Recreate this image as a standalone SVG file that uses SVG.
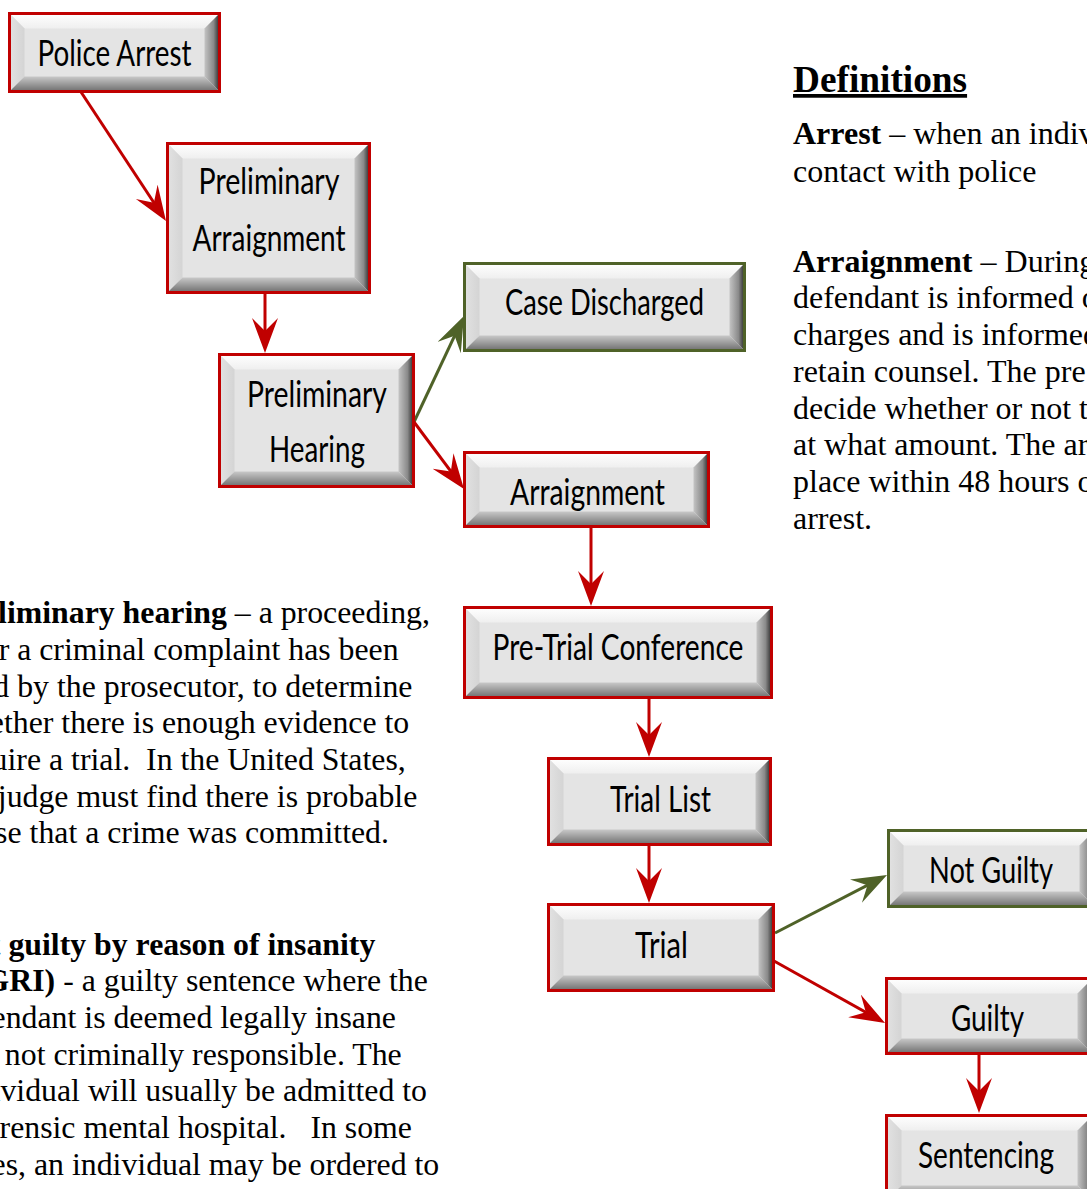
<svg xmlns="http://www.w3.org/2000/svg" width="1087" height="1189" viewBox="0 0 1087 1189">
<style>
.face{fill:#e4e4e4}
.bt{fill:url(#gTop)}
.bl{fill:url(#gLeft)}
.br{fill:url(#gRight)}
.bb{fill:url(#gBot)}
.rb{fill:none;stroke:#c00000;stroke-width:3}
.gb{fill:none;stroke:#4f6228;stroke-width:3}
.lbl{font-family:Lato,"Open Sans","Liberation Sans",sans-serif;font-size:36px;fill:#000;text-anchor:middle}
.body{font-family:"Liberation Serif","Times New Roman",serif;font-size:32px;fill:#000}
.lft{font-size:31.8px}
.b{font-weight:bold}
.cr{fill:none;stroke:#c00000;stroke-width:3;marker-end:url(#ahR)}
.cg{fill:none;stroke:#4f6228;stroke-width:3;marker-end:url(#ahG)}
</style>
<defs>
<linearGradient id="gTop" x1="0" y1="0" x2="0" y2="1"><stop offset="0" stop-color="#ffffff"/><stop offset="1" stop-color="#efefef"/></linearGradient>
<linearGradient id="gLeft" x1="0" y1="0" x2="1" y2="0"><stop offset="0" stop-color="#e2e2e2"/><stop offset="1" stop-color="#d4d4d4"/></linearGradient>
<linearGradient id="gRight" x1="0" y1="0" x2="1" y2="0"><stop offset="0" stop-color="#c4c4c4"/><stop offset="0.6" stop-color="#8a8a8a"/><stop offset="1" stop-color="#2a2a2a"/></linearGradient>
<linearGradient id="gBot" x1="0" y1="0" x2="0" y2="1"><stop offset="0" stop-color="#c8c8c8"/><stop offset="1" stop-color="#6e6e6e"/></linearGradient>
<marker id="ahR" markerUnits="userSpaceOnUse" markerWidth="36" markerHeight="27" refX="29" refY="13" orient="auto"><path d="M0,0 L35,13 L0,26 L13,13 Z" fill="#c00000"/></marker>
<marker id="ahG" markerUnits="userSpaceOnUse" markerWidth="36" markerHeight="27" refX="29" refY="13" orient="auto"><path d="M0,0 L35,13 L0,26 L13,13 Z" fill="#4f6228"/></marker>
</defs>
<rect width="1087" height="1189" fill="#ffffff"/>

<g id="connectors">
<path class="cr" d="M81,92 L162.7,216"/>
<path class="cr" d="M265,293 L265,347"/>
<path class="cg" d="M414,422 L461.4,321.4"/>
<path class="cr" d="M414,422 L460.4,484.2"/>
<path class="cr" d="M591,527 L591,600"/>
<path class="cr" d="M649,698 L649,751"/>
<path class="cr" d="M649,845 L649,897"/>
<path class="cg" d="M775,933 L881.7,877.8"/>
<path class="cr" d="M774,961 L879.8,1020.1"/>
<path class="cr" d="M979,1054 L979,1107"/>
</g>

<g id="police-arrest">
<rect class="face" x="9.5" y="13.5" width="210" height="78"/>
<polygon class="bt" points="9.5,13.5 219.5,13.5 204.5,28.5 24.5,28.5"/>
<polygon class="bl" points="9.5,13.5 24.5,28.5 24.5,76.5 9.5,91.5"/>
<polygon class="br" points="219.5,13.5 219.5,91.5 204.5,76.5 204.5,28.5"/>
<polygon class="bb" points="9.5,91.5 219.5,91.5 204.5,76.5 24.5,76.5"/>
<rect class="rb" x="9.5" y="13.5" width="210" height="78"/>
<text class="lbl" x="114.5" y="66" textLength="154" lengthAdjust="spacingAndGlyphs">Police Arrest</text>
</g>

<g id="preliminary-arraignment">
<rect class="face" x="167.5" y="143.5" width="202" height="149"/>
<polygon class="bt" points="167.5,143.5 369.5,143.5 354.5,158.5 182.5,158.5"/>
<polygon class="bl" points="167.5,143.5 182.5,158.5 182.5,277.5 167.5,292.5"/>
<polygon class="br" points="369.5,143.5 369.5,292.5 354.5,277.5 354.5,158.5"/>
<polygon class="bb" points="167.5,292.5 369.5,292.5 354.5,277.5 182.5,277.5"/>
<rect class="rb" x="167.5" y="143.5" width="202" height="149"/>
<text class="lbl" x="269" y="194" textLength="141" lengthAdjust="spacingAndGlyphs">Preliminary</text>
<text class="lbl" x="269" y="251" textLength="153" lengthAdjust="spacingAndGlyphs">Arraignment</text>
</g>

<g id="preliminary-hearing">
<rect class="face" x="219.5" y="354.5" width="194" height="132"/>
<polygon class="bt" points="219.5,354.5 413.5,354.5 398.5,369.5 234.5,369.5"/>
<polygon class="bl" points="219.5,354.5 234.5,369.5 234.5,471.5 219.5,486.5"/>
<polygon class="br" points="413.5,354.5 413.5,486.5 398.5,471.5 398.5,369.5"/>
<polygon class="bb" points="219.5,486.5 413.5,486.5 398.5,471.5 234.5,471.5"/>
<rect class="rb" x="219.5" y="354.5" width="194" height="132"/>
<text class="lbl" x="317" y="407" textLength="140" lengthAdjust="spacingAndGlyphs">Preliminary</text>
<text class="lbl" x="317" y="462" textLength="96" lengthAdjust="spacingAndGlyphs">Hearing</text>
</g>

<g id="case-discharged">
<rect class="face" x="464.5" y="263.5" width="280" height="87"/>
<polygon class="bt" points="464.5,263.5 744.5,263.5 729.5,278.5 479.5,278.5"/>
<polygon class="bl" points="464.5,263.5 479.5,278.5 479.5,335.5 464.5,350.5"/>
<polygon class="br" points="744.5,263.5 744.5,350.5 729.5,335.5 729.5,278.5"/>
<polygon class="bb" points="464.5,350.5 744.5,350.5 729.5,335.5 479.5,335.5"/>
<rect class="gb" x="464.5" y="263.5" width="280" height="87"/>
<text class="lbl" x="604.5" y="315" textLength="199" lengthAdjust="spacingAndGlyphs">Case Discharged</text>
</g>

<g id="arraignment">
<rect class="face" x="464.5" y="452.5" width="244" height="74"/>
<polygon class="bt" points="464.5,452.5 708.5,452.5 693.5,467.5 479.5,467.5"/>
<polygon class="bl" points="464.5,452.5 479.5,467.5 479.5,511.5 464.5,526.5"/>
<polygon class="br" points="708.5,452.5 708.5,526.5 693.5,511.5 693.5,467.5"/>
<polygon class="bb" points="464.5,526.5 708.5,526.5 693.5,511.5 479.5,511.5"/>
<rect class="rb" x="464.5" y="452.5" width="244" height="74"/>
<text class="lbl" x="587.5" y="505" textLength="155" lengthAdjust="spacingAndGlyphs">Arraignment</text>
</g>

<g id="pre-trial-conference">
<rect class="face" x="464.5" y="607.5" width="307" height="90"/>
<polygon class="bt" points="464.5,607.5 771.5,607.5 756.5,622.5 479.5,622.5"/>
<polygon class="bl" points="464.5,607.5 479.5,622.5 479.5,682.5 464.5,697.5"/>
<polygon class="br" points="771.5,607.5 771.5,697.5 756.5,682.5 756.5,622.5"/>
<polygon class="bb" points="464.5,697.5 771.5,697.5 756.5,682.5 479.5,682.5"/>
<rect class="rb" x="464.5" y="607.5" width="307" height="90"/>
<text class="lbl" x="618" y="660" textLength="251" lengthAdjust="spacingAndGlyphs">Pre-Trial Conference</text>
</g>

<g id="trial-list">
<rect class="face" x="548.5" y="758.5" width="222" height="86"/>
<polygon class="bt" points="548.5,758.5 770.5,758.5 755.5,773.5 563.5,773.5"/>
<polygon class="bl" points="548.5,758.5 563.5,773.5 563.5,829.5 548.5,844.5"/>
<polygon class="br" points="770.5,758.5 770.5,844.5 755.5,829.5 755.5,773.5"/>
<polygon class="bb" points="548.5,844.5 770.5,844.5 755.5,829.5 563.5,829.5"/>
<rect class="rb" x="548.5" y="758.5" width="222" height="86"/>
<text class="lbl" x="660.5" y="812" textLength="101" lengthAdjust="spacingAndGlyphs">Trial List</text>
</g>

<g id="trial">
<rect class="face" x="548.5" y="904.5" width="225" height="86"/>
<polygon class="bt" points="548.5,904.5 773.5,904.5 758.5,919.5 563.5,919.5"/>
<polygon class="bl" points="548.5,904.5 563.5,919.5 563.5,975.5 548.5,990.5"/>
<polygon class="br" points="773.5,904.5 773.5,990.5 758.5,975.5 758.5,919.5"/>
<polygon class="bb" points="548.5,990.5 773.5,990.5 758.5,975.5 563.5,975.5"/>
<rect class="rb" x="548.5" y="904.5" width="225" height="86"/>
<text class="lbl" x="661.5" y="958" textLength="53" lengthAdjust="spacingAndGlyphs">Trial</text>
</g>

<g id="not-guilty">
<rect class="face" x="888.5" y="830.5" width="206" height="76"/>
<polygon class="bt" points="888.5,830.5 1094.5,830.5 1079.5,845.5 903.5,845.5"/>
<polygon class="bl" points="888.5,830.5 903.5,845.5 903.5,891.5 888.5,906.5"/>
<polygon class="br" points="1094.5,830.5 1094.5,906.5 1079.5,891.5 1079.5,845.5"/>
<polygon class="bb" points="888.5,906.5 1094.5,906.5 1079.5,891.5 903.5,891.5"/>
<rect class="gb" x="888.5" y="830.5" width="206" height="76"/>
<text class="lbl" x="991" y="883" textLength="124" lengthAdjust="spacingAndGlyphs">Not Guilty</text>
</g>

<g id="guilty">
<rect class="face" x="886.5" y="978.5" width="206" height="75"/>
<polygon class="bt" points="886.5,978.5 1092.5,978.5 1077.5,993.5 901.5,993.5"/>
<polygon class="bl" points="886.5,978.5 901.5,993.5 901.5,1038.5 886.5,1053.5"/>
<polygon class="br" points="1092.5,978.5 1092.5,1053.5 1077.5,1038.5 1077.5,993.5"/>
<polygon class="bb" points="886.5,1053.5 1092.5,1053.5 1077.5,1038.5 901.5,1038.5"/>
<rect class="rb" x="886.5" y="978.5" width="206" height="75"/>
<text class="lbl" x="987.5" y="1031" textLength="73" lengthAdjust="spacingAndGlyphs">Guilty</text>
</g>

<g id="sentencing">
<rect class="face" x="886.5" y="1115.5" width="206" height="85"/>
<polygon class="bt" points="886.5,1115.5 1092.5,1115.5 1077.5,1130.5 901.5,1130.5"/>
<polygon class="bl" points="886.5,1115.5 901.5,1130.5 901.5,1185.5 886.5,1200.5"/>
<polygon class="br" points="1092.5,1115.5 1092.5,1200.5 1077.5,1185.5 1077.5,1130.5"/>
<polygon class="bb" points="886.5,1200.5 1092.5,1200.5 1077.5,1185.5 901.5,1185.5"/>
<rect class="rb" x="886.5" y="1115.5" width="206" height="85"/>
<text class="lbl" x="986" y="1168" textLength="136" lengthAdjust="spacingAndGlyphs">Sentencing</text>
</g>

<g id="definitions">
<text class="body b" x="793" y="92" style="font-size:37.3px" text-decoration="underline">Definitions</text>
<text class="body" x="793" y="144"><tspan class="b">Arrest</tspan> – when an individual</text>
<text class="body" x="793" y="182">contact with police</text>
<text class="body" x="793" y="272"><tspan class="b">Arraignment</tspan> – During</text>
<text class="body" x="793" y="308">defendant is informed of</text>
<text class="body" x="793" y="345">charges and is informed</text>
<text class="body" x="793" y="382">retain counsel. The pre</text>
<text class="body" x="793" y="419">decide whether or not t</text>
<text class="body" x="793" y="455">at what amount. The ar</text>
<text class="body" x="793" y="492">place within 48 hours o</text>
<text class="body" x="793" y="529">arrest.</text>
</g>

<g id="preliminary-hearing-definition">
<text class="body lft" x="-49" y="623"><tspan class="b">Preliminary hearing</tspan> – a proceeding,</text>
<text class="body lft" x="-49" y="660">after a criminal complaint has been</text>
<text class="body lft" x="-49" y="697">filed by the prosecutor, to determine</text>
<text class="body lft" x="-49" y="733">whether there is enough evidence to</text>
<text class="body lft" x="-49" y="770" xml:space="preserve">require a trial.  In the United States,</text>
<text class="body lft" x="-49" y="807">the judge must find there is probable</text>
<text class="body lft" x="-49" y="843">cause that a crime was committed.</text>
</g>

<g id="ngri-definition">
<text class="body lft b" x="-49" y="955">Not guilty by reason of insanity</text>
<text class="body lft" x="-49" y="991"><tspan class="b">(NGRI)</tspan> - a guilty sentence where the</text>
<text class="body lft" x="-49" y="1028">defendant is deemed legally insane</text>
<text class="body lft" x="-49" y="1065">and not criminally responsible. The</text>
<text class="body lft" x="-49" y="1101">individual will usually be admitted to</text>
<text class="body lft" x="-49" y="1138" xml:space="preserve">a forensic mental hospital.   In some</text>
<text class="body lft" x="-49" y="1175">cases, an individual may be ordered to</text>
</g>
</svg>
